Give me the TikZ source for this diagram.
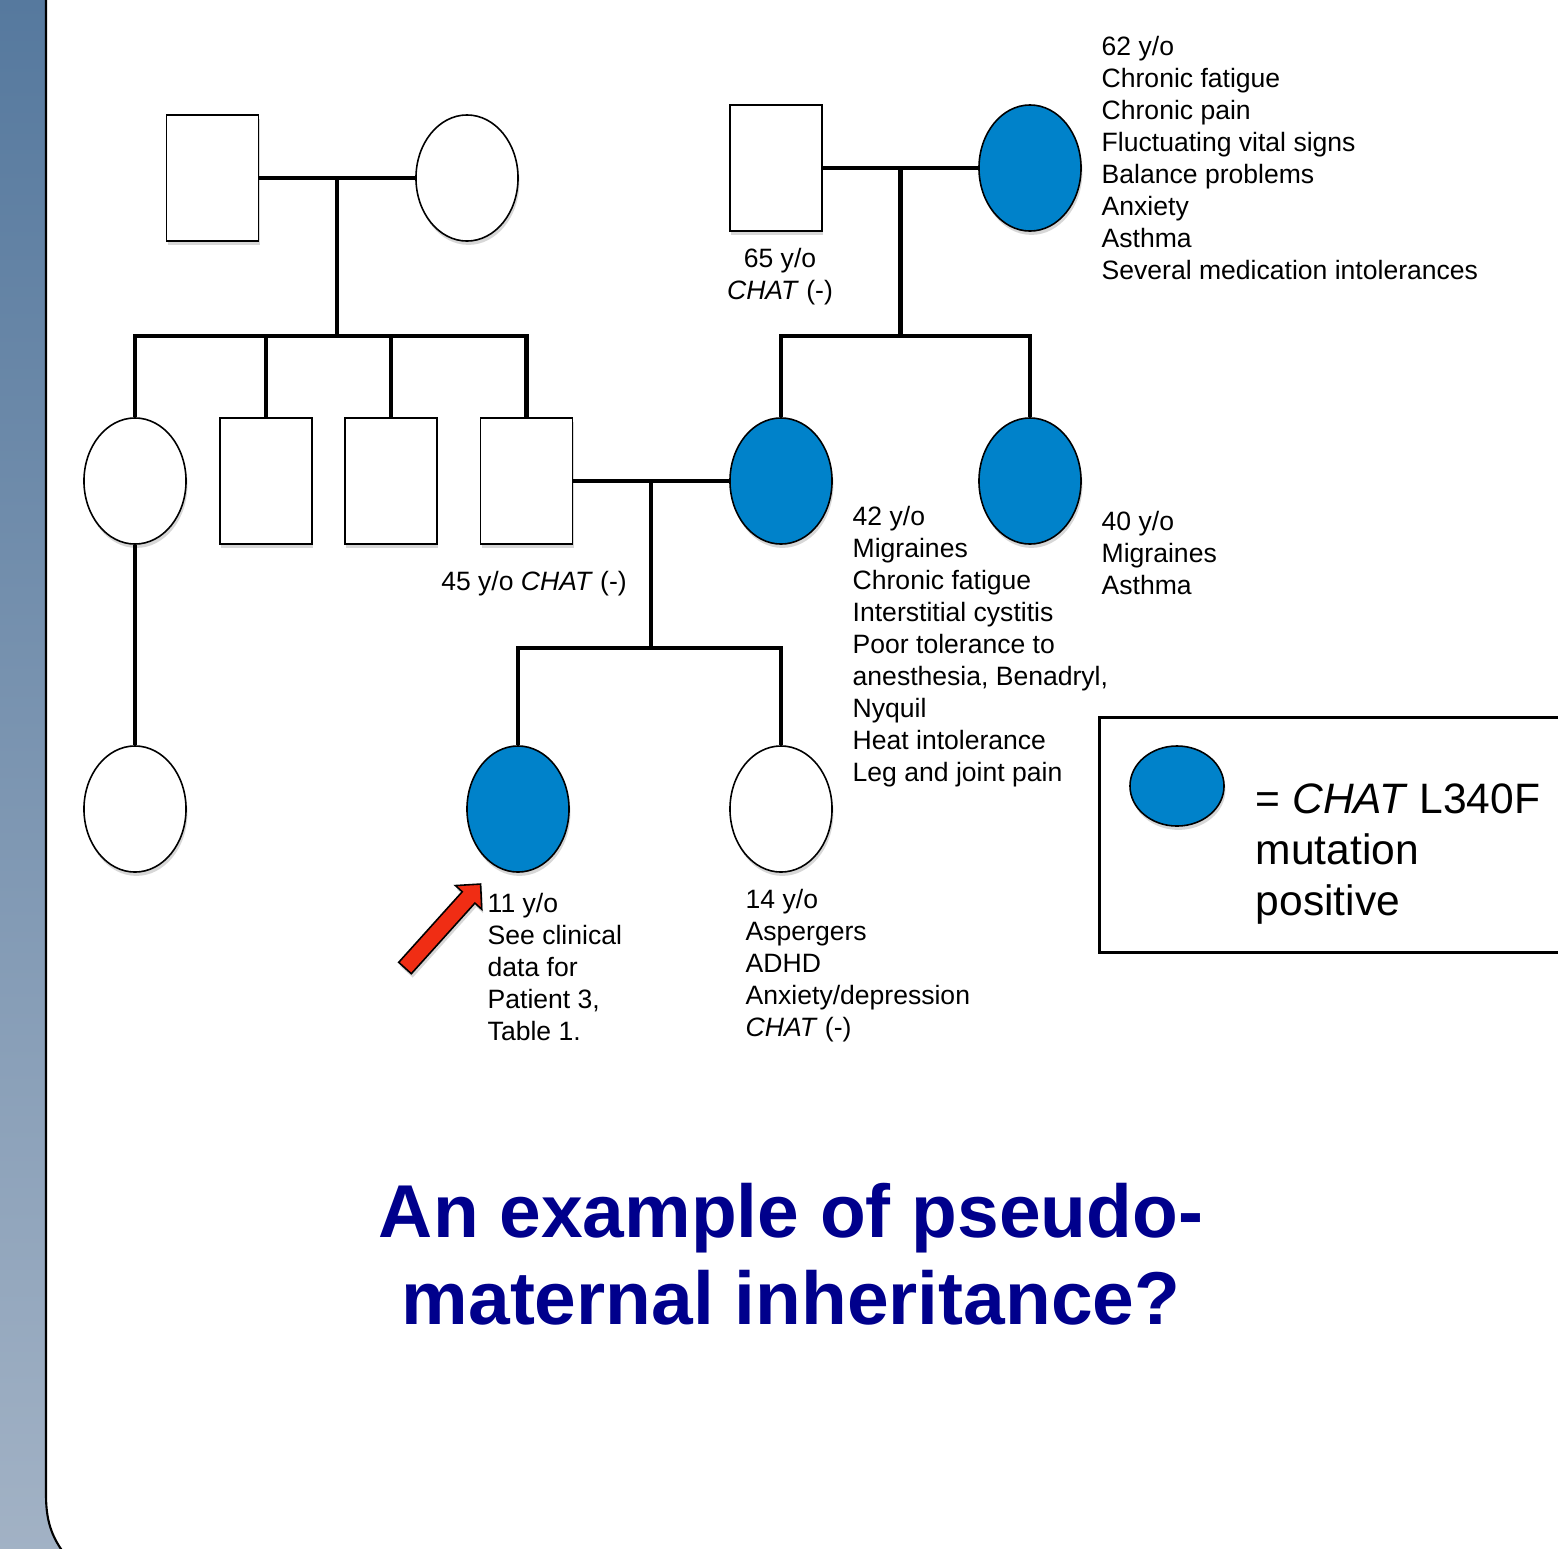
\documentclass[tikz,border=0pt]{standalone}
\usepackage{fontspec}
\setmainfont{Liberation Sans}
\usetikzlibrary{shapes.geometric, arrows.meta, positioning, calc, shadows}
\definecolor{myblue}{RGB}{0,130,202}
\definecolor{mytitle}{RGB}{0,0,140}
\definecolor{myred}{RGB}{240,45,20}
\definecolor{bartop}{RGB}{86,121,158}
\definecolor{barbot}{RGB}{162,178,197}
\tikzset{
  softshadow/.style={drop shadow={shadow xshift=0.4pt, shadow yshift=-1.1pt,
    opacity=0.22, fill=black!70}},
  male/.style={rectangle, draw=black, fill=white, line width=0.45pt,
    inner sep=0pt, minimum width=0.92cm, minimum height=1.26cm, softshadow},
  female/.style={ellipse, draw=black, fill=white, line width=0.45pt,
    inner sep=0pt, minimum width=1.02cm, minimum height=1.26cm, softshadow},
  affected/.style={female, fill=myblue},
  line/.style={line width=1.15pt, color=black},
  note/.style={anchor=north west, inner sep=0pt, align=left,
    font=\fontsize{7.55}{9.1}\selectfont}
}

\begin{document}
\begin{tikzpicture}[x=0.01cm, y=-0.01cm,
  pointer/.style={draw=black, fill=myred, line width=0.45pt, line join=miter, softshadow},
  keynote/.style={anchor=north west, inner sep=0pt, align=left,
    font=\fontsize{12.1}{14.5}\selectfont}]

  \useasboundingbox (0,0) rectangle (1558,1548);
  \fill[white] (0,0) rectangle (1558,1548);

  % Slide side bar
  \shade[top color=bartop, bottom color=barbot] (0,0) -- (46,0) -- (46,1495)
    .. controls (46,1525) and (54,1540) .. (66,1556) -- (0,1556) -- cycle;
  \draw[line width=0.6pt] (46,-5) -- (46,1495)
    .. controls (46,1525) and (54,1540) .. (66,1556);

  % Generation I, paternal couple
  \node[male] (gf1) at (212.5,178) {};
  \node[female] (gm1) at (467,178) {};
  % Generation I, maternal couple
  \node[male] (gf2) at (776,168) {};
  \node[affected] (gm2) at (1030,168) {};

  % Generation II
  \node[female] (a1) at (135,481) {};
  \node[male] (a2) at (266,481) {};
  \node[male] (a3) at (391,481) {};
  \node[male] (dad) at (526.5,481) {};
  \node[affected] (mom) at (781,481) {};
  \node[affected] (aunt) at (1030,481) {};

  % Generation III
  \node[female] (cousin) at (135,809) {};
  \node[affected] (proband) at (518,809) {};
  \node[female] (sister) at (781,809) {};

  % Paternal sibship
  \draw[line] (gf1) -- (gm1);
  \coordinate (u1) at ($(gf1.east)!0.5!(gm1.west)$);
  \draw[line] (u1) -- (u1 |- 0,336);
  \draw[line] (a1.north) |- (dad.north |- 0,336) -- (dad.north);
  \foreach \n in {a2,a3}
    \draw[line] (\n.north) -- (\n.north |- 0,336);
  \draw[line] (a1.south) -- (cousin.north);

  % Maternal sibship
  \draw[line] (gf2) -- (gm2);
  \coordinate (u2) at ($(gf2.east)!0.5!(gm2.west)$);
  \draw[line] (u2) -- (u2 |- 0,336);
  \draw[line] (mom.north) |- (aunt.north |- 0,336) -- (aunt.north);

  % Parents and children
  \draw[line] (dad) -- (mom);
  \coordinate (u3) at ($(dad.east)!0.5!(mom.west)$);
  \draw[line] (u3) -- (u3 |- 0,648);
  \draw[line] (proband.north) |- (sister.north |- 0,648) -- (sister.north);

  % Clinical notes
  \node[note] (t62) at (1101,36) {62 y/o\\Chronic fatigue\\Chronic pain\\Fluctuating vital signs\\Balance problems\\Anxiety\\Asthma\\Several medication intolerances};
  \node[note, anchor=north, align=center] (t65) at (780,248) {65 y/o\\\textit{CHAT} (-)};
  \node[note, anchor=north] (t45) at (534,571) {45 y/o \textit{CHAT} (-)};
  \node[note] (t42) at (852,506) {42 y/o\\Migraines\\Chronic fatigue\\Interstitial cystitis\\Poor tolerance to\\anesthesia, Benadryl,\\Nyquil\\Heat intolerance\\Leg and joint pain};
  \node[note] (t40) at (1101,511) {40 y/o\\Migraines\\Asthma};
  \node[note] (t11) at (487,893) {11 y/o\\See clinical\\data for\\Patient 3,\\Table 1.};
  \node[note] (t14) at (745,889) {14 y/o\\Aspergers\\ADHD\\Anxiety/depression\\\textit{CHAT} (-)};

  % Proband pointer
  \begin{scope}[shift={(405,968)}, rotate=48]
    \draw[pointer] (0,-8.5) -- (95,-8.5) -- (95,-17.7) -- (113,0)
      -- (95,17.7) -- (95,8.5) -- (0,8.5) -- cycle;
  \end{scope}

  % Legend
  \node[draw, line width=0.75pt, anchor=north west, inner sep=0pt,
    minimum width=4.8cm, minimum height=2.35cm] (legend) at (1098,716) {};
  \node[affected, minimum width=0.94cm, minimum height=0.8cm] (key) at (1177,786) {};
  \node[keynote] (keytext) at (1255,783) {= \textit{CHAT} L340F\\mutation\\positive};

  % Title
  \node[font=\fontsize{21.3}{25}\selectfont\bfseries, color=mytitle, align=center,
    anchor=north, inner sep=0pt] (title) at (791,1182) {An example of pseudo-\\maternal inheritance?};
\end{tikzpicture}
\end{document}
